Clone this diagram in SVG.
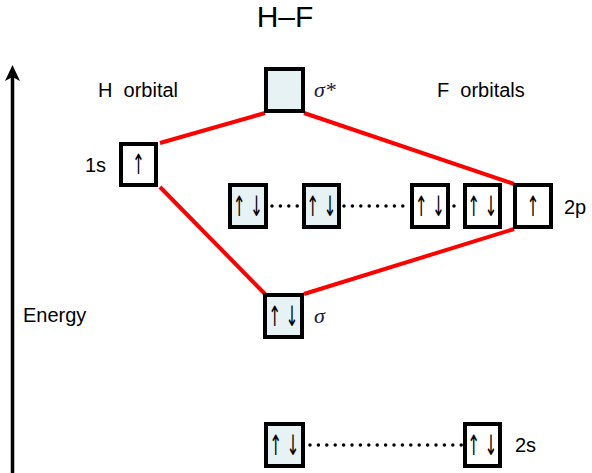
<svg xmlns="http://www.w3.org/2000/svg" width="592" height="473" viewBox="0 0 592 473">
<style>
.box{stroke:#000;stroke-width:4;fill:#fff}
.fill{fill:#e7f2f4}
.lbl{font-family:"Liberation Sans",Arial,sans-serif;font-size:20px;fill:#000}
.spin{font-family:"DejaVu Sans",sans-serif;font-size:28px;fill:#000;text-anchor:middle}
.pair{letter-spacing:8px}
.sig{font-family:"Liberation Serif","Times New Roman",serif;font-style:italic;font-size:22px;fill:#1a1a40}
.red{stroke:#f00;stroke-width:4;fill:none}
.dot{stroke:#000;stroke-width:3.5;stroke-linecap:round;stroke-dasharray:0 8.4;fill:none}
</style>
<rect width="592" height="473" fill="#fff"/>
<text x="285" y="27" class="lbl" style="font-size:30px" text-anchor="middle">H–F</text>
<g id="axis">
<line x1="12.5" y1="473" x2="12.5" y2="75" stroke="#000" stroke-width="3.5"/>
<polygon points="12.5,65 20,81 12.5,77 5,81" fill="#000"/>
<text x="23" y="322" class="lbl">Energy</text>
</g>
<text x="98" y="97" class="lbl" xml:space="preserve">H  orbital</text>
<text x="437" y="97" class="lbl" xml:space="preserve">F  orbitals</text>
<g id="connectors">
<line x1="160" y1="143" x2="265" y2="113" class="red"/>
<line x1="304" y1="113" x2="514" y2="184" class="red"/>
<line x1="160" y1="187" x2="265" y2="294" class="red"/>
<line x1="304" y1="294" x2="514" y2="229" class="red"/>
<line x1="272" y1="206" x2="300" y2="206" class="dot"/>
<line x1="344" y1="206" x2="410" y2="206" class="dot"/>
<line x1="454" y1="206" x2="462" y2="206" class="dot"/>
<line x1="310" y1="445" x2="462" y2="445" class="dot"/>
</g>
<g id="sigma_star">
<rect x="266" y="69" width="37" height="42" class="box fill"/>
<text x="314" y="97" class="sig">σ*</text>
</g>
<g id="h1s">
<rect x="121" y="144" width="35" height="41" class="box"/>
<text transform="translate(138.5,174) scale(0.55,1)" class="spin">↑</text>
<text x="85" y="172" class="lbl">1s</text>
</g>
<g id="p1">
<rect x="230" y="185" width="36" height="42" class="box fill"/>
<text transform="translate(250,216) scale(0.55,1)" class="spin pair">↑↓</text>
</g>
<g id="p2">
<rect x="304" y="185" width="35" height="42" class="box fill"/>
<text transform="translate(323.5,216) scale(0.55,1)" class="spin pair">↑↓</text>
</g>
<g id="p3">
<rect x="412" y="185" width="36" height="42" class="box"/>
<text transform="translate(432,216) scale(0.55,1)" class="spin pair">↑↓</text>
</g>
<g id="p4">
<rect x="465" y="185" width="35" height="42" class="box"/>
<text transform="translate(484.5,216) scale(0.55,1)" class="spin pair">↑↓</text>
</g>
<g id="p5">
<rect x="515" y="185" width="36" height="42" class="box"/>
<text transform="translate(533,216) scale(0.55,1)" class="spin">↑</text>
<text x="564" y="214" class="lbl">2p</text>
</g>
<g id="sigma">
<rect x="265" y="295" width="37" height="42" class="box fill"/>
<text transform="translate(285.5,326) scale(0.55,1)" class="spin pair">↑↓</text>
<text x="314" y="323" class="sig">σ</text>
</g>
<g id="s1">
<rect x="266" y="424" width="37" height="42" class="box fill"/>
<text transform="translate(286.5,455) scale(0.55,1)" class="spin pair">↑↓</text>
</g>
<g id="s2">
<rect x="465" y="424" width="35" height="42" class="box"/>
<text transform="translate(484.5,455) scale(0.55,1)" class="spin pair">↑↓</text>
<text x="515" y="452" class="lbl">2s</text>
</g>
</svg>
